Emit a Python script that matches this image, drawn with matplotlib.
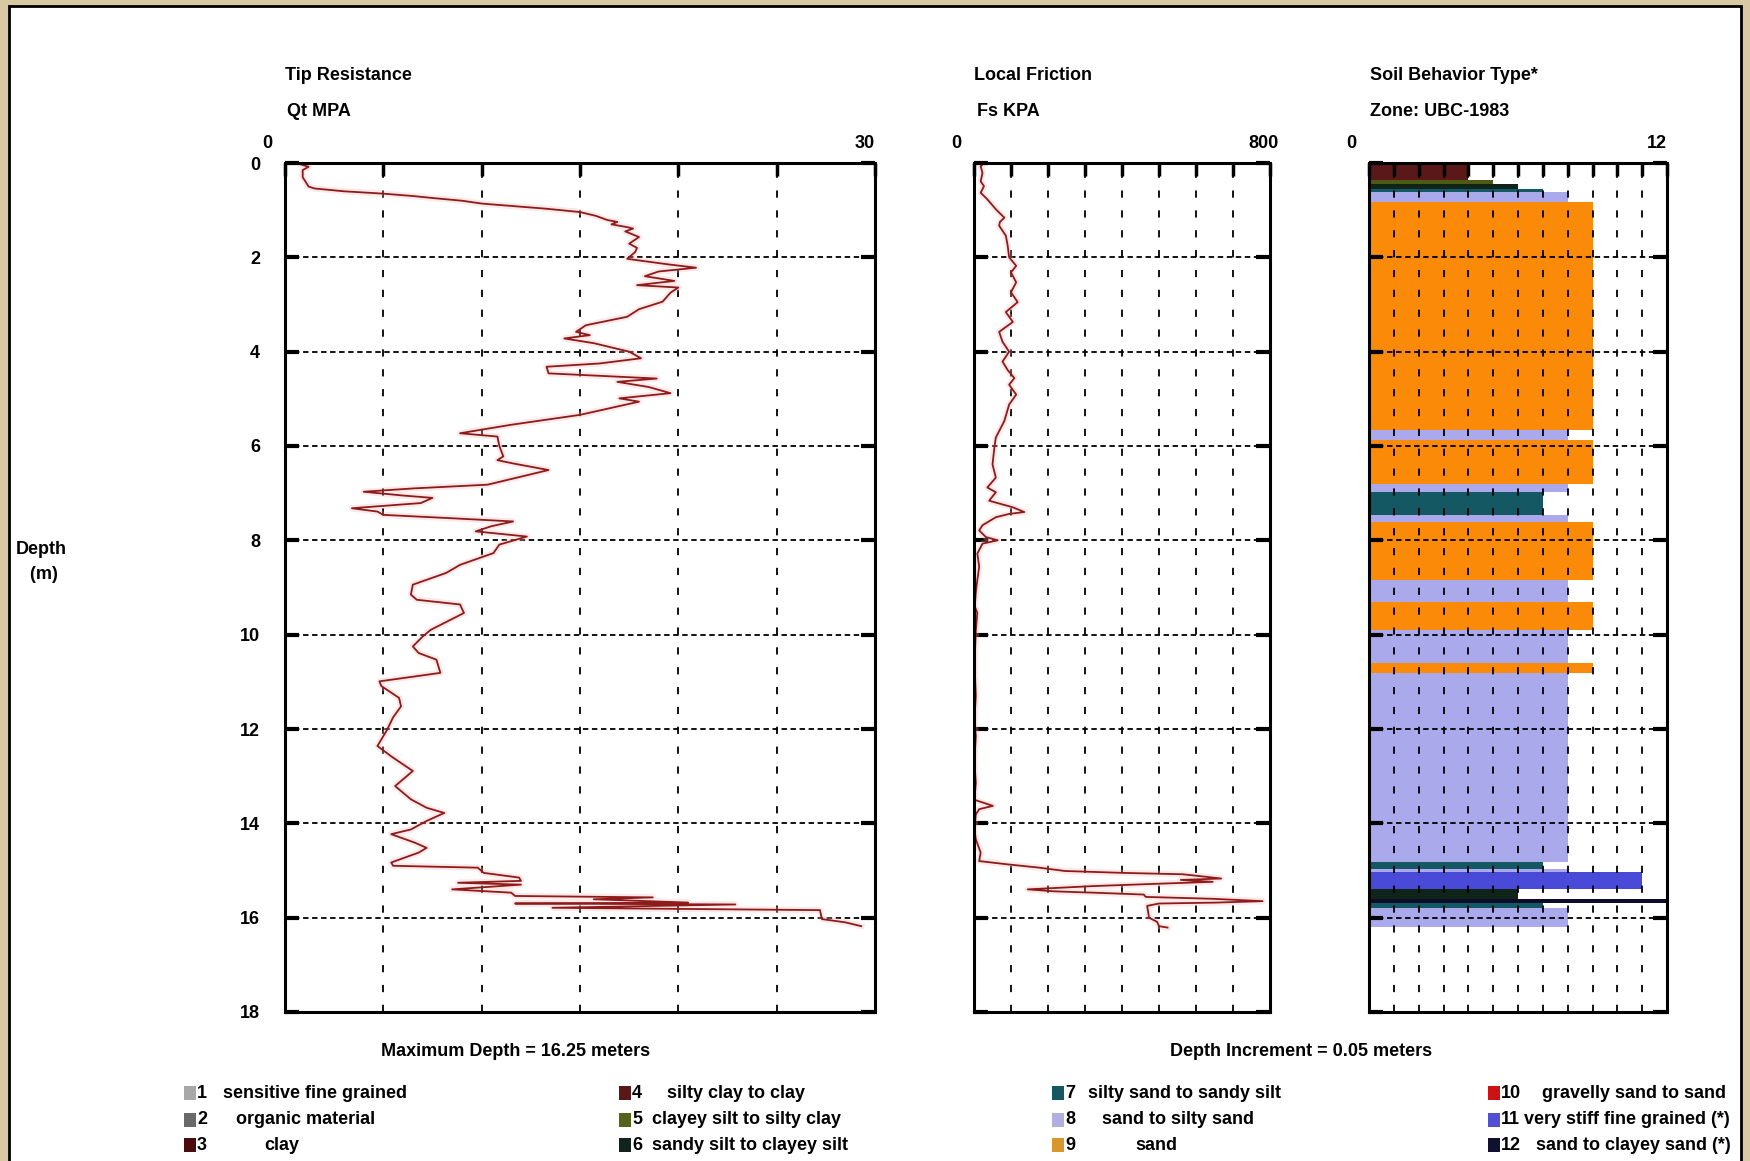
import numpy as np
import matplotlib.pyplot as plt
from matplotlib.patches import Rectangle
from matplotlib.transforms import offset_copy

FONT = ['Liberation Sans Narrow', 'Liberation Sans', 'DejaVu Sans']
plt.rcParams['font.family'] = FONT
plt.rcParams['font.weight'] = 'bold'
plt.rcParams['font.stretch'] = 'condensed'

# tip resistance Qt (MPa) vs depth (m)
qt_depth = [0.03, 0.08, 0.15, 0.30, 0.50, 0.54, 0.60, 0.65, 0.70, 0.75, 0.80, 0.86, 0.92, 0.97,
            1.04, 1.12, 1.21, 1.25, 1.30, 1.36, 1.39, 1.45, 1.57, 1.71, 1.80, 1.89, 2.03, 2.06,
            2.15, 2.22, 2.30, 2.40, 2.50, 2.59, 2.64, 2.75, 2.94, 3.10, 3.26, 3.44, 3.58, 3.65,
            3.72, 3.82, 4.00, 4.14, 4.25, 4.32, 4.46, 4.53, 4.57, 4.64, 4.75, 4.88, 4.99, 5.06,
            5.20, 5.34, 5.55, 5.73, 5.80, 6.00, 6.22, 6.30, 6.37, 6.51, 6.82, 6.90, 6.97, 7.05,
            7.10, 7.21, 7.32, 7.39, 7.46, 7.53, 7.60, 7.70, 7.81, 7.92, 8.09, 8.27, 8.52, 8.69,
            8.94, 9.15, 9.26, 9.36, 9.54, 9.90, 10.04, 10.25, 10.39, 10.53, 10.81, 10.99, 11.09,
            11.34, 11.52, 11.75, 12.01, 12.36, 12.58, 12.89, 13.21, 13.49, 13.67, 13.78, 13.95,
            14.13, 14.23, 14.41, 14.52, 14.62, 14.83, 14.90, 14.94, 15.05, 15.15, 15.22, 15.26,
            15.30, 15.40, 15.47, 15.54, 15.57, 15.61, 15.68, 15.70, 15.72, 15.79, 15.84, 16.03,
            16.10, 16.18]
qt_value = [0.8, 1.2, 0.9, 0.9, 1.2, 1.5, 3.0, 5.0, 6.5, 7.7, 9.0, 10.0, 11.8, 13.3,
            15.0, 15.8, 16.4, 16.9, 16.6, 17.4, 17.7, 17.3, 18.0, 17.5, 17.9, 17.8, 17.4, 17.9,
            19.5, 20.9, 19.0, 18.3, 19.8, 17.9, 20.0, 19.6, 19.2, 18.0, 17.4, 15.3, 14.8, 15.5,
            14.2, 15.7, 17.5, 18.1, 16.0, 13.3, 13.4, 16.9, 18.9, 16.9, 18.5, 19.6, 17.0, 18.0,
            16.5, 15.0, 11.5, 8.9, 10.8, 10.9, 11.1, 10.8, 11.6, 13.4, 10.3, 6.5, 4.0, 6.0,
            7.5, 6.9, 3.4, 4.7, 5.0, 8.4, 11.6, 10.5, 9.7, 12.3, 10.9, 10.6, 8.9, 8.2,
            6.5, 6.4, 6.7, 8.9, 9.1, 7.4, 7.0, 6.5, 6.8, 7.7, 7.9, 4.8, 4.9,
            5.8, 5.9, 5.5, 5.2, 4.7, 5.4, 6.5, 5.6, 6.4, 7.2, 8.1, 7.2,
            6.4, 5.4, 6.6, 7.2, 6.8, 5.4, 5.5, 9.8, 10.1, 11.9, 12.0, 8.8,
            12.0, 8.5, 11.5, 11.7, 18.7, 15.7, 20.5, 11.7, 22.9, 13.6, 27.2, 27.3,
            28.5, 29.3]

# local friction Fs (kPa) vs depth (m)
fs_depth = [0.05, 0.07, 0.21, 0.39, 0.49, 0.63, 0.77, 0.98, 1.16, 1.25, 1.33, 1.54, 1.75, 2.00,
            2.18, 2.32, 2.53, 2.74, 2.95, 3.16, 3.37, 3.58, 3.79, 4.00, 4.21, 4.39, 4.56, 4.70,
            4.91, 5.12, 5.47, 5.82, 6.04, 6.39, 6.67, 6.88, 6.98, 7.16, 7.30, 7.40, 7.44, 7.51,
            7.68, 7.79, 7.93, 8.00, 8.07, 8.28, 8.56, 8.84, 9.10, 9.40, 9.54, 9.90, 10.30, 10.74,
            11.30, 11.80, 12.15, 12.70, 13.14, 13.50, 13.63, 13.70, 13.81, 14.13, 14.34, 14.62,
            14.80, 14.87, 14.94, 15.01, 15.05, 15.08, 15.13, 15.17, 15.20, 15.24, 15.29, 15.33,
            15.40, 15.44, 15.46, 15.47, 15.51, 15.56, 15.60, 15.65, 15.68, 15.70, 15.75, 16.00,
            16.09, 16.18, 16.21]
fs_value = [21, 18, 23, 18, 27, 18, 36, 59, 82, 70, 68, 86, 91, 95,
            114, 100, 114, 100, 118, 86, 105, 68, 77, 95, 77, 91, 109, 95,
            114, 95, 82, 59, 55, 50, 59, 36, 59, 41, 105, 136, 95, 59,
            23, 14, 32, 64, 23, 9, 14, 9, 5, 2, 9, 5, 3, 2,
            5, 1, 5, 1, 5, 1, 51, 14, 5, 1, 5, 18,
            14, 91, 177, 245, 400, 564, 623, 668, 559, 645, 464, 323,
            145, 214, 282, 323, 459, 464, 645, 780, 655, 500, 468, 473,
            495, 500, 523]

# soil behaviour type layers
sbt_top = [0.00, 0.35, 0.45, 0.55, 0.62, 0.83, 5.66, 5.87, 6.80, 6.98, 7.47, 7.61, 8.85, 9.30,
           9.90, 10.60, 10.82, 14.83, 14.97, 15.04, 15.39, 15.60, 15.68, 15.80]
sbt_bottom = [0.35, 0.45, 0.55, 0.62, 0.83, 5.66, 5.87, 6.80, 6.98, 7.47, 7.61, 8.85, 9.30, 9.90,
              10.60, 10.82, 14.83, 14.97, 15.04, 15.39, 15.60, 15.68, 15.80, 16.20]
sbt_zone = [4, 5, 6, 7, 8, 9, 8, 9, 8, 7, 8, 9, 8, 9, 8, 9, 8, 7, 8, 11, 6, 12, 7, 8]

zone_names = ['sensitive fine grained', 'organic material', 'clay',
              'silty clay to clay', 'clayey silt to silty clay', 'sandy silt to clayey silt',
              'silty sand to sandy silt', 'sand to silty sand', 'sand',
              'gravelly sand to sand', 'very stiff fine grained (*)', 'sand to clayey sand (*)']
zone_colors = ['#a8a8a8', '#6a6a6a', '#3e0a0a', '#5a1818', '#4e5a14', '#10241a',
               '#135862', '#a9a9ec', '#fb8a08', '#cc1212', '#4a4ad8', '#0c0c2a']
legend_colors = ['#a8a8a8', '#6a6a6a', '#4a0c0c', '#5a1818', '#55631a', '#10241a',
                 '#135862', '#b0b0e0', '#d9962a', '#cc1212', '#5050d0', '#101030']

W, H = 1750, 1161
FS = 13
fig = plt.figure(figsize=(W / 100, H / 100), dpi=100)
fig.patch.set_facecolor('#d9c9a3')
fig.patches.append(Rectangle((9 / W, -0.05), (1741 - 9) / W, 1.05 - 6 / H, transform=fig.transFigure,
                             facecolor='white', edgecolor='black', linewidth=2, zorder=-1))


def px(x, y):
    return x / W, 1 - y / H


top, bot = 163, 1012
def make_axes(left, right):
    return fig.add_axes([left / W, 1 - bot / H, (right - left) / W, (bot - top) / H])


ax1 = make_axes(285, 875)
ax2 = make_axes(974, 1270)
ax3 = make_axes(1369, 1667)

for ax, xmax, step in [(ax1, 30, 5), (ax2, 800, 100), (ax3, 12, 1)]:
    ax.set_xlim(0, xmax)
    ax.set_ylim(18, 0)
    ax.set_xticks(np.arange(0, xmax + step / 2, step))
    ax.set_yticks(np.arange(0, 19, 2))
    ax.tick_params(axis='x', direction='in', length=9, width=2.5, top=True, bottom=False,
                   labeltop=False, labelbottom=False)
    ax.tick_params(axis='y', direction='in', length=10, width=3, left=True, right=True,
                   labelleft=False)
    for s in ax.spines.values():
        s.set_linewidth(2.2)
    ax.xaxis.grid(True, color='black', linestyle=(0, (4, 7)), linewidth=1.3)
    ax.yaxis.grid(True, color='black', linestyle=(0, (3, 2)), linewidth=1.3)
    ax.set_axisbelow(True)
    lab_tr = offset_copy(ax.transAxes, fig, x=-13, y=14, units='points')
    ax.text(0, 1, '0', transform=lab_tr, ha='center', va='center', fontsize=FS)
    r_off = 6 if xmax == 800 else 0
    ax.text(1, 1, str(xmax), transform=offset_copy(ax.transAxes, fig, x=r_off, y=14, units='points'),
            ha='right', va='center', fontsize=FS)

ax1.tick_params(axis='y', labelleft=True, pad=18, labelsize=FS)

# profile lines with a faint pink glow
for ax, xs, ys in [(ax1, qt_value, qt_depth), (ax2, fs_value, fs_depth)]:
    ax.plot(xs, ys, color='#f5b5b5', linewidth=4.5, alpha=0.3)
    ax.plot(xs, ys, color='#8e1a1a', linewidth=1.3)

# soil behaviour type bars
sbt_top = np.array(sbt_top)
sbt_bottom = np.array(sbt_bottom)
ax3.barh((sbt_top + sbt_bottom) / 2, sbt_zone, height=sbt_bottom - sbt_top, left=0,
         color=[zone_colors[z - 1] for z in sbt_zone], edgecolor='none')
ax3.set_axisbelow(False)

# headings
fig.text(*px(285, 75), 'Tip Resistance', fontsize=FS, va='center')
fig.text(*px(287, 111), 'Qt MPA', fontsize=FS, va='center')
fig.text(*px(974, 75), 'Local Friction', fontsize=FS, va='center')
fig.text(*px(977, 111), 'Fs KPA', fontsize=FS, va='center')
fig.text(*px(1370, 75), 'Soil Behavior Type*', fontsize=FS, va='center')
fig.text(*px(1370, 111), 'Zone: UBC-1983', fontsize=FS, va='center')
fig.text(*px(41, 562), 'Depth\n (m)', fontsize=FS, va='center', ha='center', linespacing=1.6)

fig.text(*px(516, 1052), 'Maximum Depth = 16.25 meters', fontsize=FS, va='center', ha='center')
fig.text(*px(1301, 1052), 'Depth Increment = 0.05 meters', fontsize=FS, va='center', ha='center')

# zone legend
col_x = [184, 619, 1052, 1488]
row_y = [1093, 1120, 1145]
label_off = [39, 52, 80, 48, 33, 33, 36, 50, 83, 54, 36, 48]
for i, name in enumerate(zone_names):
    cx, ry = col_x[i // 3], row_y[i % 3]
    fig.patches.append(Rectangle(px(cx, ry + 7), 12 / W, 14 / H, transform=fig.transFigure,
                                 facecolor=legend_colors[i], edgecolor='none'))
    fig.text(*px(cx + 13, ry), str(i + 1), fontsize=FS, va='center')
    fig.text(*px(cx + label_off[i], ry), name, fontsize=FS, va='center')

fig.savefig('out.png', dpi=100, facecolor=fig.get_facecolor())
